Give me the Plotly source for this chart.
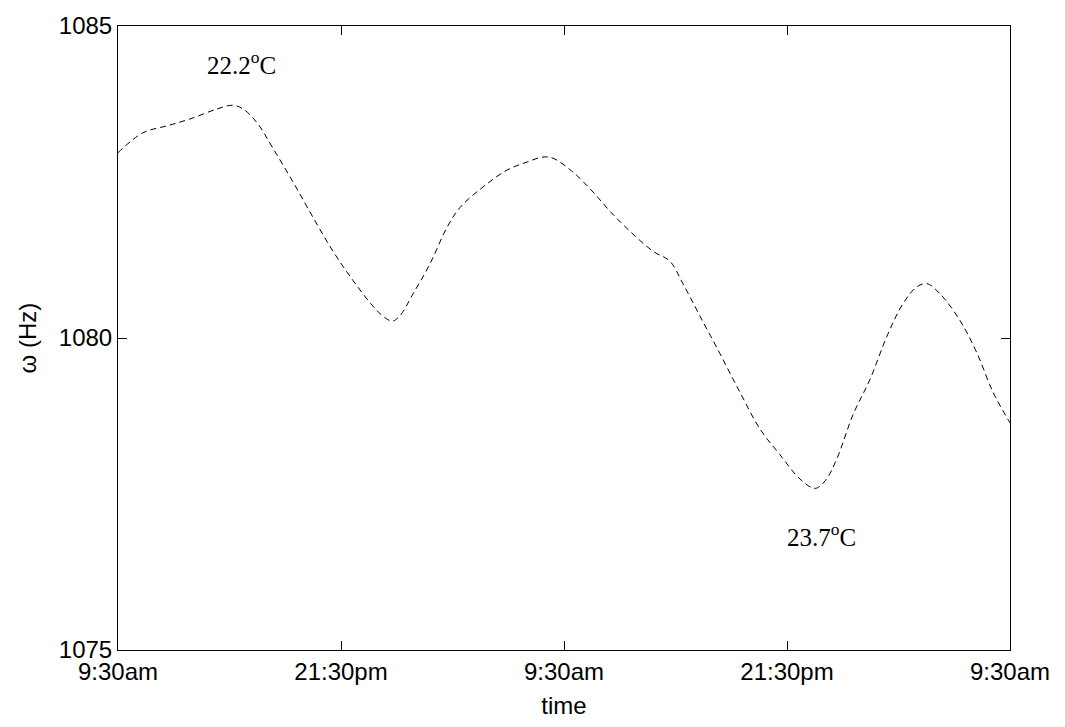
import plotly.graph_objects as go

# hours since 9:30am on day 1, and measured frequency
hours = [0, 1.35, 2.64, 3.87, 5.33, 6.19, 6.73, 7.48, 8.34, 9.42, 10.5, 11.57,
         12.65, 13.72, 14.26, 14.75, 15.18, 15.88, 16.79, 17.7, 18.4, 19.64,
         20.93, 22.01, 22.87, 23.41, 24.48, 25.56, 26.48, 27.55, 28.79, 29.7,
         30.4, 31.32, 32.39, 33.47, 34.55, 35.62, 36.7, 37.51, 38.05, 38.69,
         39.55, 40.47, 41.38, 42.24, 42.99, 43.53, 44.23, 45.31, 46.22, 47.09,
         48.0]
omega = [1082.97, 1083.29, 1083.40, 1083.51, 1083.67, 1083.73, 1083.67, 1083.45,
         1083.04, 1082.50, 1081.93, 1081.39, 1080.92, 1080.51, 1080.35, 1080.27,
         1080.36, 1080.71, 1081.19, 1081.77, 1082.09, 1082.42, 1082.69, 1082.82,
         1082.90, 1082.88, 1082.66, 1082.34, 1082.03, 1081.71, 1081.39, 1081.23,
         1080.87, 1080.35, 1079.75, 1079.13, 1078.54, 1078.13, 1077.74, 1077.59,
         1077.71, 1078.07, 1078.77, 1079.34, 1080.03, 1080.55, 1080.82, 1080.87,
         1080.71, 1080.28, 1079.76, 1079.13, 1078.64]

tick_hours = [0, 12, 24, 36, 48]
tick_labels = ['9:30am', '21:30pm', '9:30am', '21:30pm', '9:30am']

# temperature notes (text, x, y)
notes = [('22.2<sup>o</sup>C', 6.67, 1084.41),
         ('23.7<sup>o</sup>C', 37.88, 1076.84)]

fig = go.Figure()

fig.add_trace(go.Scatter(x=hours, y=omega, mode='lines',
    line=dict(color='black', width=1, dash='6px,4px', shape='spline'),
    showlegend=False))

for txt, nx, ny in notes:
    fig.add_annotation(x=nx, y=ny, text=txt, showarrow=False,
        font=dict(family='Liberation Serif', size=25, color='black'))

axis_style = dict(showline=True, linecolor='black', linewidth=1, mirror='ticks',
                  ticks='inside', ticklen=9, tickcolor='black',
                  showgrid=False, zeroline=False, ticklabeloverflow='allow',
                  tickfont=dict(family='Liberation Sans', size=24, color='black'))

fig.update_xaxes(range=[0, 48], tickvals=tick_hours, ticktext=tick_labels,
                 title=dict(text='time', standoff=13,
                            font=dict(family='Liberation Sans', size=24, color='black')),
                 **axis_style)
fig.update_yaxes(range=[1075, 1085], tickvals=[1075, 1080, 1085],
                 title=dict(text='ω (Hz)', standoff=15,
                            font=dict(family='Liberation Sans', size=24, color='black')),
                 **axis_style)

fig.update_layout(width=1065, height=727, autosize=False,
                  margin=dict(l=118, r=55, t=19, b=76),
                  plot_bgcolor='white', paper_bgcolor='white')

# drop the page's default body margin so the figure sits at the top-left corner
fig.write_html("out.html", config={'displayModeBar': False},
               post_script="document.body.style.margin='0';")
